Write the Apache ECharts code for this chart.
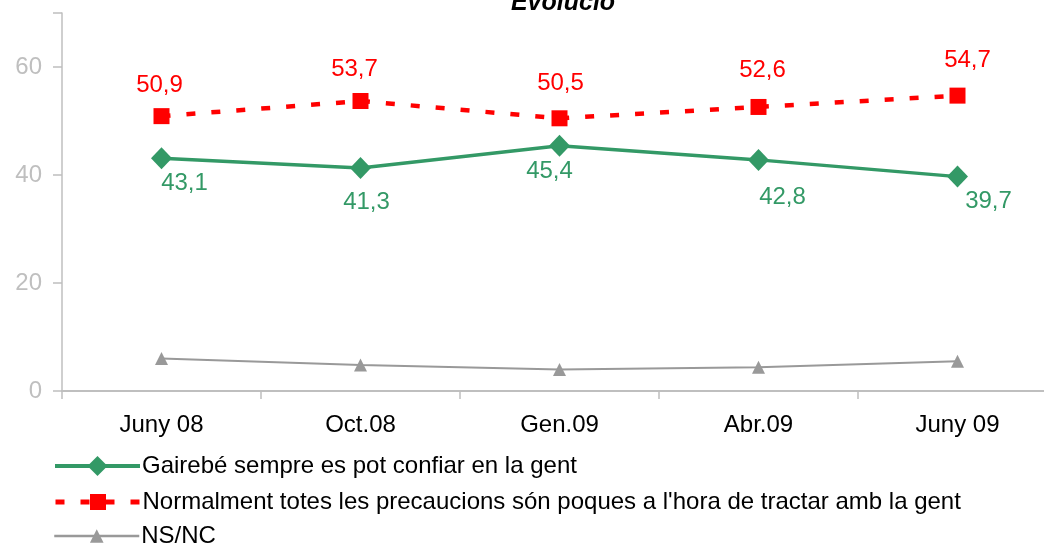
<!DOCTYPE html>
<html>
<head>
<meta charset="utf-8">
<script src="https://cdn.jsdelivr.net/npm/echarts@6/dist/echarts.min.js"></script>
<style>html,body{margin:0;padding:0;background:#fff;}#c{width:1044px;height:545px;}</style>
</head>
<body>
<div id="c"></div>
<script>
const categories = ['Juny 08', 'Oct.08', 'Gen.09', 'Abr.09', 'Juny 09'];
const seriesNames = [
  'Gairebé sempre es pot confiar en la gent',
  "Normalment totes les precaucions són poques a l'hora de tractar amb la gent",
  'NS/NC'
];
const confiar = [43.1, 41.3, 45.4, 42.8, 39.7];
const precaucions = [50.9, 53.7, 50.5, 52.6, 54.7];
const nsnc = [6.0, 4.8, 4.0, 4.4, 5.5];
const yTicks = [0, 20, 40, 60];

// label nudges (style only: where each value label sits relative to its point)
const greenLabelNudge = [[23, 25], [6, 34], [-10, 26], [24, 37], [31, 25]];
const redLabelNudge = [[-2, -31], [-6, -32], [1, -35], [4, -37], [10, -35]];

const fmt = p => String(p.value).replace('.', ',');
const font = 'Liberation Sans, Arial, sans-serif';

const withLabels = (vals, nudges) => vals.map((v, i) => ({
  value: v, label: {offset: nudges[i]}
}));

const legendBase = (name, top, h, lw, dash) => ({
  orient: 'vertical', left: 53, top: top, padding: 0,
  itemWidth: 85, itemHeight: h, itemGap: 0,
  textStyle: {color: '#000', fontFamily: font, fontSize: 24, lineHeight: 26, padding: [0, 0, 0, -3]},
  lineStyle: {width: lw, type: dash || 'solid'},
  data: [name]
});

const chart = echarts.init(document.getElementById('c'), null, {renderer: 'canvas'});
chart.setOption({
  animation: false,
  backgroundColor: '#fff',
  title: {
    text: 'Evolució', left: 558, textAlign: 'center', top: -14,
    textStyle: {fontFamily: font, fontSize: 25, fontWeight: 'bold', fontStyle: 'italic', color: '#000'}
  },
  grid: {left: 62, top: 13, width: 995, height: 378, containLabel: false, outerBoundsMode: 'none'},
  xAxis: {
    type: 'category', data: categories, boundaryGap: true,
    axisLine: {lineStyle: {color: '#bfbfbf', width: 2}},
    axisTick: {show: true, length: 8, lineStyle: {color: '#bfbfbf', width: 1.5}},
    axisLabel: {color: '#000', fontFamily: font, fontSize: 24, margin: 22}
  },
  yAxis: {
    type: 'value', min: 0, max: 70, interval: 20,
    axisLine: {show: true, lineStyle: {color: '#bfbfbf', width: 1.5}},
    axisTick: {show: true, length: 9, lineStyle: {color: '#bfbfbf', width: 1.5}},
    splitLine: {show: false},
    axisLabel: {color: '#bfbfbf', fontFamily: font, fontSize: 24, margin: 20,
      formatter: v => yTicks.includes(v) ? String(v) : ''}
  },
  legend: [
    legendBase(seriesNames[0], 453, 25, 4),
    legendBase(seriesNames[1], 489, 20, 5, [9, 16]),
    legendBase(seriesNames[2], 523, 17, 2.5)
  ],
  series: [
    {
      name: seriesNames[0], type: 'line', data: withLabels(confiar, greenLabelNudge),
      symbol: 'diamond', symbolSize: [21, 22],
      lineStyle: {color: '#339966', width: 3.5},
      itemStyle: {color: '#339966'},
      label: {show: true, position: 'inside', color: '#339966',
        fontFamily: font, fontSize: 24, formatter: fmt}
    },
    {
      name: seriesNames[1], type: 'line', data: withLabels(precaucions, redLabelNudge),
      symbol: 'rect', symbolSize: 16,
      lineStyle: {color: '#ff0000', width: 4.5, type: [9, 16]},
      itemStyle: {color: '#ff0000'},
      label: {show: true, position: 'inside', color: '#ff0000',
        fontFamily: font, fontSize: 24, formatter: fmt}
    },
    {
      name: seriesNames[2], type: 'line', data: nsnc,
      symbol: 'triangle', symbolSize: 13,
      lineStyle: {color: '#999999', width: 2},
      itemStyle: {color: '#999999'},
      label: {show: false}
    }
  ]
});
</script>
</body>
</html>
